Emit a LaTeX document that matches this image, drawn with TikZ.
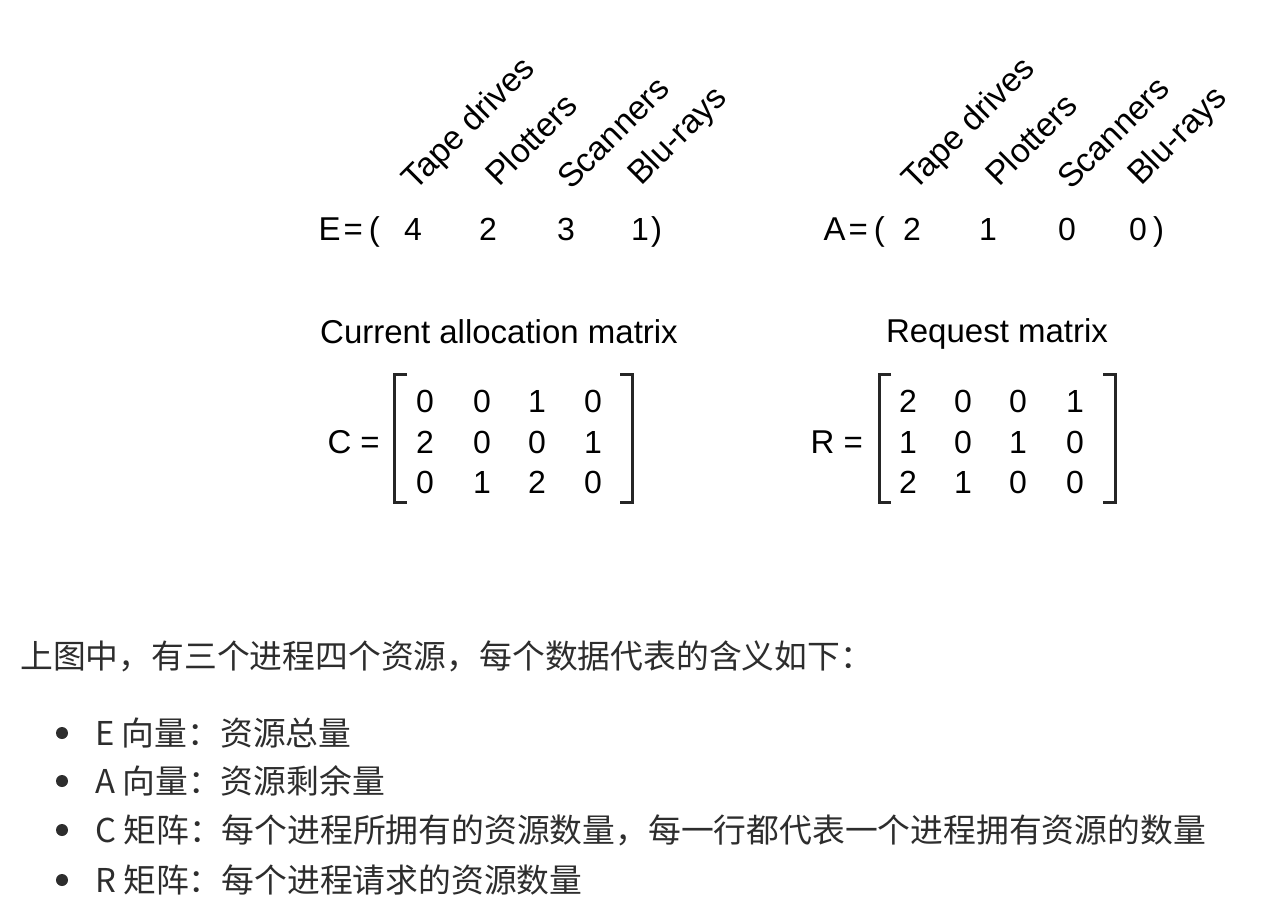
\documentclass[tikz,border=0pt]{standalone}
\usepackage{fontspec}
\setmainfont{Liberation Sans}
\newfontfamily\cjkfont{Noto Sans CJK SC}
\usepackage{xcolor}
\usepackage{tikz}
\definecolor{bodytext}{RGB}{45,45,45}
\tikzset{
  latin/.style={ font=\fontsize{33}{40}\selectfont, inner sep=0pt },
  entry/.style={
    font=\fontsize{32}{38}\selectfont,
    inner sep=0pt,
    anchor=base
  },
  reslabel/.style={
    font=\fontsize{33.5}{40}\selectfont,
    inner sep=0pt,
    rotate=45,
    anchor=base west
  },
  bracket/.style={
    line width=3pt,
    line join=miter,
    draw=black!85
  },
  zhtext/.style={
    font=\cjkfont\fontsize{32.8}{40}\selectfont,
    text=bodytext,
    inner sep=0pt,
    anchor=base west
  },
  bulletdot/.style={
    circle,
    fill=bodytext,
    inner sep=0pt,
    minimum size=12pt
  }
}

\begin{document}
\begin{tikzpicture}[x=1pt,y=-1pt]
\useasboundingbox[fill=white] (0,0) rectangle (1288,922);

% resource labels
\foreach \k/\xx/\yy/\txt in {1/415/192/Tape drives, 2/499/188/Plotters, 3/571/191/Scanners, 4/641/187/Blu-rays} {
  \node[reslabel] (Elab\k) at (\xx,\yy) {\txt};
  \node[reslabel] (Alab\k) at (\xx+500,\yy) {\txt};
}

% existing and available vectors
\node[latin, anchor=base east] (Eopen) at (380,240) {E\kern3pt=\kern6pt(};
\foreach \k/\xx/\v in {1/413/4, 2/488/2, 3/566/3, 4/640/1}
  \node[entry] (E\k) at (\xx,240) {\v};
\node[latin, anchor=base west] (Eclose) at (651,240) {)};

\node[latin, anchor=base east] (Aopen) at (885,240) {A\kern3pt=\kern6pt(};
\foreach \k/\xx/\v in {1/912/2, 2/988/1, 3/1067/0, 4/1138/0}
  \node[entry] (A\k) at (\xx,240) {\v};
\node[latin, anchor=base west] (Aclose) at (1153,240) {)};

% matrix titles
\node[latin, anchor=base] (Ctitle) at (499,343) {Current allocation matrix};
\node[latin, anchor=base] (Rtitle) at (997,342) {Request matrix};

% current allocation matrix
\node[latin, anchor=base east] (Cname) at (380,453) {C =};
\foreach \r/\yy/\a/\b/\c/\d in {1/412/0/0/1/0, 2/453/2/0/0/1, 3/493/0/1/2/0} {
  \node[entry] (C\r1) at (425,\yy) {\a};
  \node[entry] (C\r2) at (482,\yy) {\b};
  \node[entry] (C\r3) at (537,\yy) {\c};
  \node[entry] (C\r4) at (593,\yy) {\d};
}
\draw[bracket] (407,374) -- (394,374) -- (394,502) -- (407,502);
\draw[bracket] (620,374) -- (632,374) -- (632,502) -- (620,502);

% request matrix
\node[latin, anchor=base east] (Rname) at (863,453) {R =};
\foreach \r/\yy/\a/\b/\c/\d in {1/412/2/0/0/1, 2/453/1/0/1/0, 3/493/2/1/0/0} {
  \node[entry] (R\r1) at (908,\yy) {\a};
  \node[entry] (R\r2) at (963,\yy) {\b};
  \node[entry] (R\r3) at (1018,\yy) {\c};
  \node[entry] (R\r4) at (1075,\yy) {\d};
}
\draw[bracket] (891,374) -- (879,374) -- (879,502) -- (891,502);
\draw[bracket] (1103,374) -- (1115,374) -- (1115,502) -- (1103,502);

% explanation
\node[zhtext] (intro) at (20,668) {上图中，有三个进程四个资源，每个数据代表的含义如下：};
\foreach \k/\yy/\txt in {1/745/E 向量：资源总量, 2/793/A 向量：资源剩余量, 3/842/C 矩阵：每个进程所拥有的资源数量，每一行都代表一个进程拥有资源的数量, 4/892/R 矩阵：每个进程请求的资源数量} {
  \node[bulletdot] (dot\k) at (62,\yy-12) {};
  \node[zhtext] (item\k) at (95,\yy) {\txt};
}
\end{tikzpicture}
\end{document}
